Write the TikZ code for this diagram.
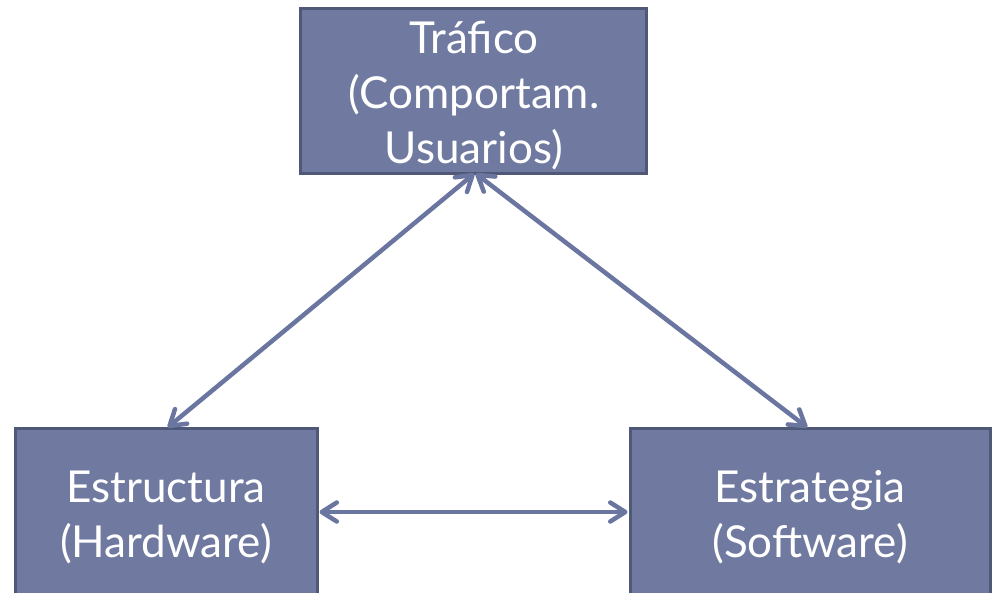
\documentclass[tikz,border=0pt]{standalone}
\usepackage{fontspec}
\setmainfont{Lato}
\usetikzlibrary{arrows.meta}
\definecolor{boxfill}{RGB}{112,122,160}
\definecolor{boxline}{RGB}{80,88,120}
\definecolor{arrowc}{RGB}{106,117,160}
\begin{document}
\begin{tikzpicture}[x=1pt,y=-1pt,
  box/.style={draw=boxline, fill=boxfill, line width=3pt, rectangle, inner sep=0pt},
  lbl/.style={text=white, align=center, font=\fontsize{44}{55}\selectfont, inner sep=0pt},
  tip/.style={Straight Barb[length=15pt,width=19pt,line width=4.5pt,round]},
  link/.style={draw=arrowc, line width=4.5pt, line cap=round, {Straight Barb[length=15pt,width=19pt,round]}-{Straight Barb[length=15pt,width=19pt,round]}, shorten <=1pt, shorten >=1pt}]
\useasboundingbox (0,0) rectangle (992,592);
\begin{scope}
\clip (0,0) rectangle (992,592);
\node[box, minimum width=346pt, minimum height=165pt] (traf) at (473,90.5) {};
\node[box, minimum width=302pt, minimum height=180pt] (estr) at (166,518) {};
\node[box, minimum width=360pt, minimum height=180pt] (soft) at (810,518) {};
\end{scope}
\node[lbl] (trafT) at (474,96) {Tráfico\\(Comportam.\\Usuarios)};
\node[lbl] (estrT) at (166,517) {Estructura\\(Hardware)};
\node[lbl] (softT) at (810,517) {Estrategia\\(Software)};
\coordinate (tb) at (475,173);
\coordinate (et) at (167,428);
\coordinate (st) at (808,428);
\draw[link] (tb) -- (et);
\draw[link] (tb) -- (st);
\draw[link] (estr.east |- 0,512) -- (soft.west |- 0,512);
\end{tikzpicture}
\end{document}
